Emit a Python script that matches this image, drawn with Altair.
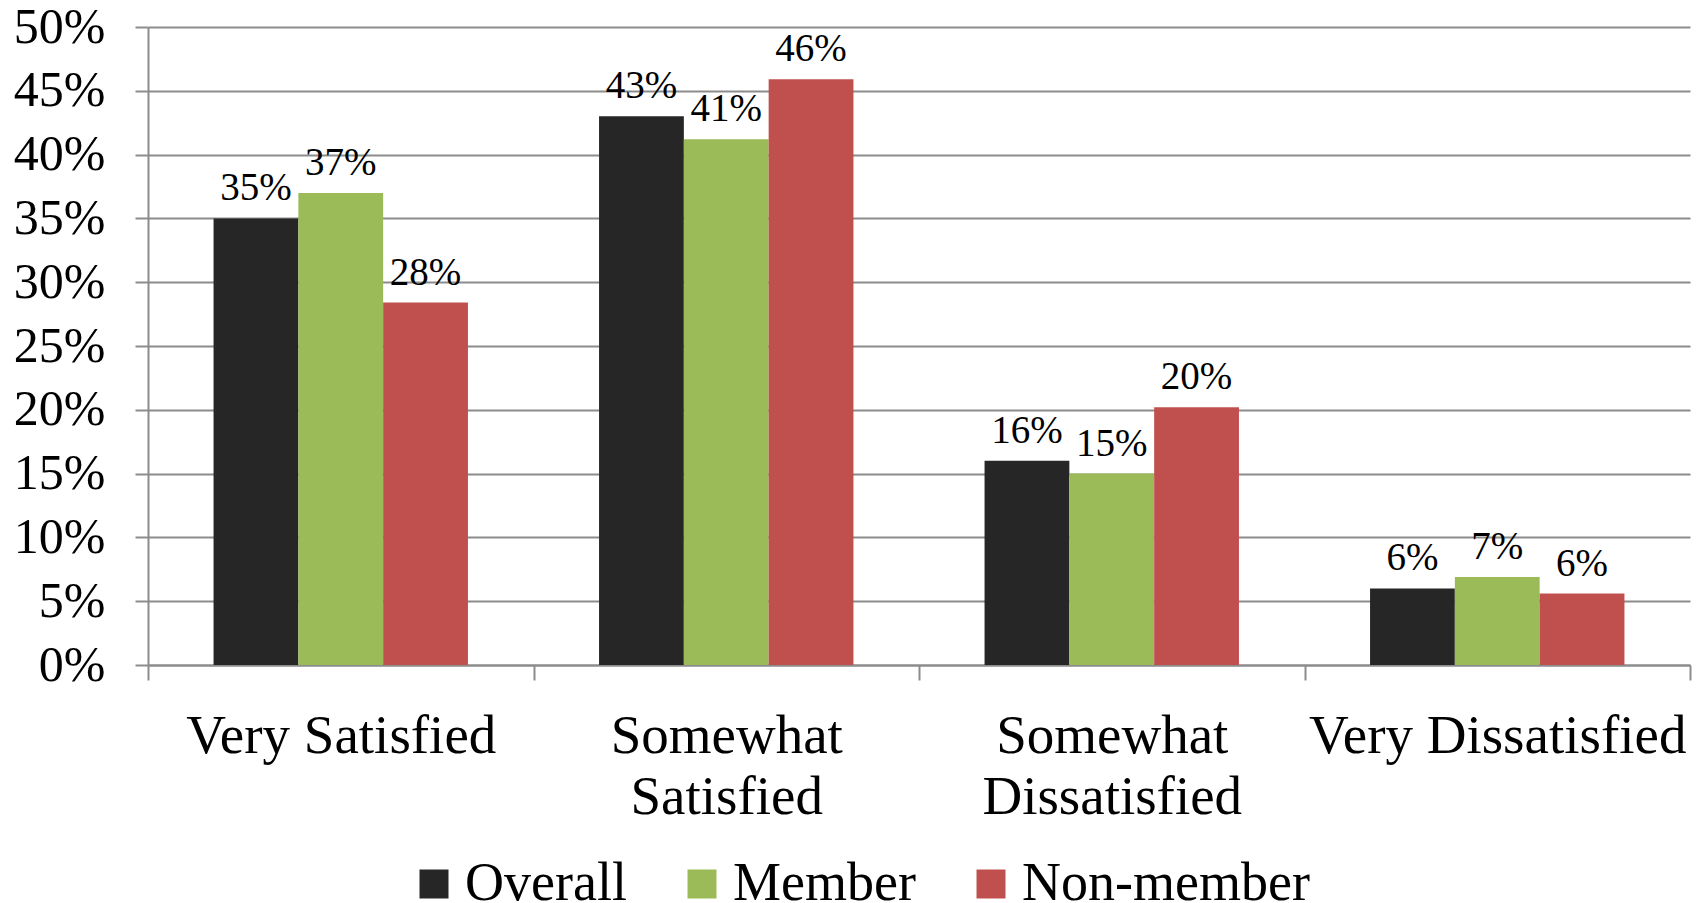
import altair as alt
import pandas as pd

categories = ["Very Satisfied", "Somewhat Satisfied", "Somewhat Dissatisfied", "Very Dissatisfied"]
groups = ["Overall", "Member", "Non-member"]
colors = ["#262626", "#9BBB59", "#C0504D"]

overall = [35.0, 43.0, 16.0, 6.0]
member = [37.0, 41.2, 15.0, 6.9]
non_member = [28.4, 45.9, 20.2, 5.6]

rows = []
for series_name, vals in zip(groups, [overall, member, non_member]):
    for cat, v in zip(categories, vals):
        rows.append({"cat": cat, "grp": series_name, "val": v, "lbl": f"{int(v + 0.5)}%"})
df = pd.DataFrame(rows)

FONT = "Liberation Serif"
GRID = "#8c8c8c"

x_enc = alt.X(
    "cat:N",
    sort=categories,
    title=None,
    scale=alt.Scale(paddingInner=0, paddingOuter=0),
    axis=alt.Axis(
        labelAngle=0,
        tickBand="extent",
        tickSize=15,
        tickColor=GRID,
        tickWidth=2,
        domainColor=GRID,
        domainWidth=2,
        labelFont=FONT,
        labelFontSize=55,
        labelColor="black",
        labelPadding=29,
        labelLineHeight=61,
        labelLimit=600,
        labelExpr="indexof(datum.label, 'Somewhat') == 0 ? split(datum.label, ' ') : datum.label",
        grid=False,
    ),
)
xoff = alt.XOffset(
    "grp:N", sort=groups, scale=alt.Scale(paddingInner=0, paddingOuter=0.773)
)
y_enc = alt.Y(
    "val:Q",
    title=None,
    scale=alt.Scale(domain=[0, 50], nice=False),
    axis=alt.Axis(
        values=list(range(0, 55, 5)),
        labelExpr="datum.value + '%'",
        grid=True,
        gridColor=GRID,
        gridWidth=2,
        tickColor=GRID,
        tickWidth=2,
        tickSize=13,
        domainColor=GRID,
        domainWidth=2,
        labelFont=FONT,
        labelFontSize=50,
        labelColor="black",
        labelPadding=30,
    ),
)

bars = alt.Chart(df).mark_bar().encode(
    x=x_enc,
    xOffset=xoff,
    y=y_enc,
    color=alt.Color(
        "grp:N",
        sort=groups,
        scale=alt.Scale(domain=groups, range=colors),
        legend=alt.Legend(
            title=None,
            orient="none",
            direction="horizontal",
            legendX=259,
            legendY=830,
            symbolType="square",
            symbolSize=841,
            symbolStrokeWidth=0,
            symbolOpacity=1,
            labelFont=FONT,
            labelFontSize=54,
            labelColor="black",
            labelOffset=4,
            columnPadding=48,
            labelLimit=500,
        ),
    ),
)

texts = alt.Chart(df).mark_text(
    font=FONT, fontSize=39, color="black", baseline="alphabetic", dy=-18
).encode(x=x_enc, xOffset=xoff, y=y_enc, text="lbl:N")

chart = (
    alt.layer(bars, texts)
    .properties(
        width=1542,
        height=638,
        autosize=alt.AutoSizeParams(type="none"),
        padding={"left": 140, "top": 19, "right": 9, "bottom": 245},
        background="white",
    )
    .configure_view(stroke=None)
)

chart.save("out.html", embed_options={"renderer": "svg", "actions": False})
